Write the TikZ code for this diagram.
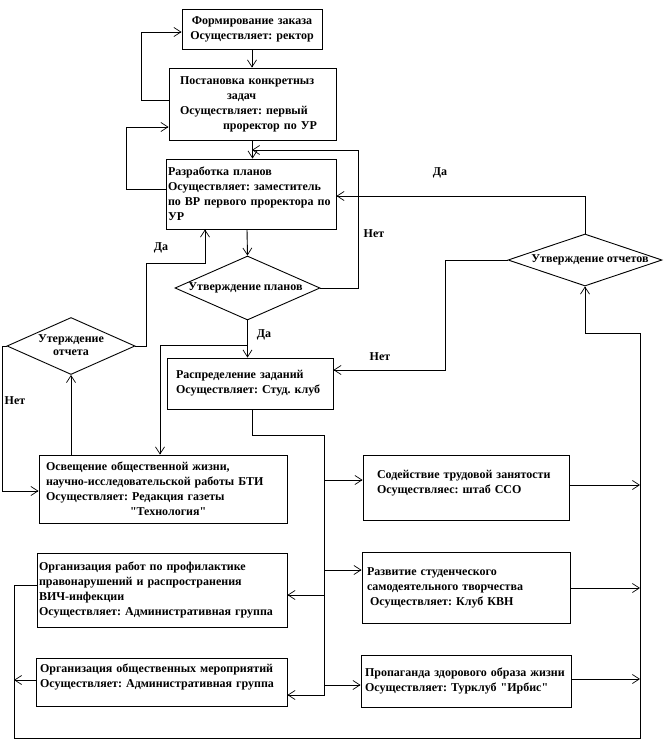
\documentclass[tikz,border=0pt]{standalone}
\usepackage{fontspec}
\setmainfont{Liberation Serif}
\usetikzlibrary{arrows.meta,shapes.geometric}
\frenchspacing
\begin{document}
\frenchspacing
\begin{tikzpicture}[x=1pt,y=-1pt,
  every node/.style={font=\fontsize{12}{15}\selectfont\bfseries},
  box/.style={draw, line width=0.9pt, rectangle, align=left, inner ysep=0pt},
  dia/.style={draw, line width=0.9pt, diamond, inner sep=0pt, align=center},
  lbl/.style={inner sep=0pt},
  arr/.style={draw, line width=0.9pt, -{Straight Barb[length=7pt,width=9pt,line width=0.7pt]}},
  ln/.style={draw, line width=0.9pt}]
\useasboundingbox (0,0) rectangle (671,752);

% boxes
\node[box, align=center, inner xsep=5pt, text width=130pt, minimum width=140pt, minimum height=40pt] (b1) at (252,29)
  {\mbox{Формирование заказа}\\\mbox{Осуществляет: ректор}};
\node[box, inner xsep=11pt, text width=145pt, minimum width=167pt, minimum height=72pt] (b2) at (252.5,104)
  {\mbox{Постановка конкретныз}\\\mbox{\hspace*{47pt}задач}\\\mbox{Осуществляет: первый}\\\mbox{\hspace*{43pt}проректор по УР}};
\node[box, inner xsep=2pt, text width=166pt, minimum width=170pt, minimum height=70pt] (b3) at (251,194)
  {\mbox{Разработка планов}\\\mbox{Осуществляет: заместитель}\\\mbox{по ВР первого проректора по}\\\mbox{УР}};
\node[box, inner xsep=9pt, text width=148pt, minimum width=166pt, minimum height=51pt] (b4) at (250,383.5)
  {\mbox{Распределение заданий}\\\mbox{Осуществляет: Студ. клуб}};
\node[box, inner xsep=7pt, text width=234pt, minimum width=248pt, minimum height=68pt] (b5) at (163,489)
  {\mbox{Освещение общественной жизни,}\\\mbox{научно-исследовательской работы БТИ}\\\mbox{Осуществляет: Редакция газеты}\\\mbox{\hspace*{84pt}\textquotedbl Технология\textquotedbl}};
\node[box, inner xsep=14pt, text width=178pt, minimum width=206pt, minimum height=65pt] (b6) at (466,487.5)
  {\mbox{Содействие трудовой занятости}\\\mbox{Осуществляес: штаб ССО}\\[-3pt]\mbox{}};
\node[box, inner xsep=5pt, text width=198pt, minimum width=208pt, minimum height=71pt] (b7) at (466,587.5)
  {\mbox{Развитие студенческого}\\\mbox{самодеятельного творчества}\\\mbox{\hspace*{3pt}Осуществляет: Клуб КВН}};
\node[box, inner xsep=4pt, text width=202pt, minimum width=210pt, minimum height=52pt] (b8) at (466,681)
  {\mbox{Пропаганда здорового образа жизни}\\\mbox{Осуществляет: Турклуб \textquotedbl Ирбис\textquotedbl}};
\node[box, inner xsep=2pt, text width=246pt, minimum width=250pt, minimum height=74pt] (b9) at (162,590)
  {\mbox{Организация работ по профилактике}\\\mbox{правонарушений и распространения}\\\mbox{ВИЧ-инфекции}\\\mbox{Осуществляет: Административная группа}};
\node[box, inner xsep=4pt, text width=243pt, minimum width=251pt, minimum height=48pt] (b10) at (161.5,682)
  {\mbox{Организация общественных мероприятий}\\\mbox{Осуществляет: Административная группа}\\[-3pt]\mbox{}};

% diamonds
\node[dia, minimum width=145pt, minimum height=64pt] (d1) at (247.5,288)
  {\makebox[0pt]{\hspace*{-4pt}Утверждение планов}};
\node[dia, minimum width=128pt, minimum height=57pt] (d2) at (71,346)
  {\makebox[0pt]{\begin{tabular}{@{}c@{}}Утерждение\\[-2pt]отчета\end{tabular}}};
\node[dia, minimum width=154pt, minimum height=52pt] (d3) at (585,260)
  {\makebox[0pt]{\hspace*{10pt}Утверждение отчетов}};

% labels
\node[lbl] (l1) at (374,234) {Нет};
\node[lbl] (l2) at (161,248) {Да};
\node[lbl] (l3) at (264,335) {Да};
\node[lbl] (l4) at (15,401) {Нет};
\node[lbl] (l5) at (440,173) {Да};
\node[lbl] (l6) at (380,357) {Нет};

% junctions
\coordinate (j1) at (252,150);
\coordinate (j2) at (247,345);
\coordinate (j3) at (324,435);

% connectors
\draw[arr] (b1.south) -- (b1.south |- b2.north);
\draw[arr] (b2.south) -- (b2.south |- b3.north);
\draw[arr] ([yshift=4pt]b2.west) -- ++(-27,0) |- ([yshift=-3pt]b1.west);
\draw[arr] ([yshift=5pt]b3.west) -- ++(-39,0) |- ([yshift=-23pt]b2.west);
\draw[arr] ([xshift=-4pt]b3.south) -- (d1.north);
\draw[arr] (d1.east) -| (358,150) -- (j1);
\draw[arr] (d1.south) -- (d1.south |- b4.north);
\draw[arr] (j2) -| ([xshift=-3pt]b5.north);
\draw[arr] (d2.south |- b5.north) -- (d2.south);
\draw[arr] (d2.west) -- ++(-4,0) |- ([yshift=-2pt]b5.west);
\draw[arr] (d2.east) -| (146,263) -| ([xshift=-46pt]b3.south);
\draw[arr] ([xshift=2pt]b4.south) |- (j3) |- ([yshift=-13pt]b10.east);
\draw[arr] (324,480) -- ([yshift=7.5pt]b6.west);
\draw[arr] (324,570) -- ([yshift=17.5pt]b7.west);
\draw[arr] (324,595) -- ([yshift=-5pt]b9.east);
\draw[arr] (324,685) -- ([yshift=-4pt]b8.west);
\draw[arr] ([yshift=2.5pt]b6.east) -- (640,485);
\draw[arr] ([yshift=-0.5pt]b7.east) -- (640,588);
\draw[arr] ([yshift=2pt]b8.east) -- (640,679);
\draw[arr] ([yshift=5pt]b9.west) -| (14,738) -| (640,333) -| (d3.south);
\draw[arr] ([yshift=2pt]b10.west) -- (14,680);
\draw[arr] (d3.north) |- ([yshift=-2pt]b3.east);
\draw[arr] (d3.west) -| (445,370) -- ([yshift=13.5pt]b4.east);
\end{tikzpicture}
\end{document}
